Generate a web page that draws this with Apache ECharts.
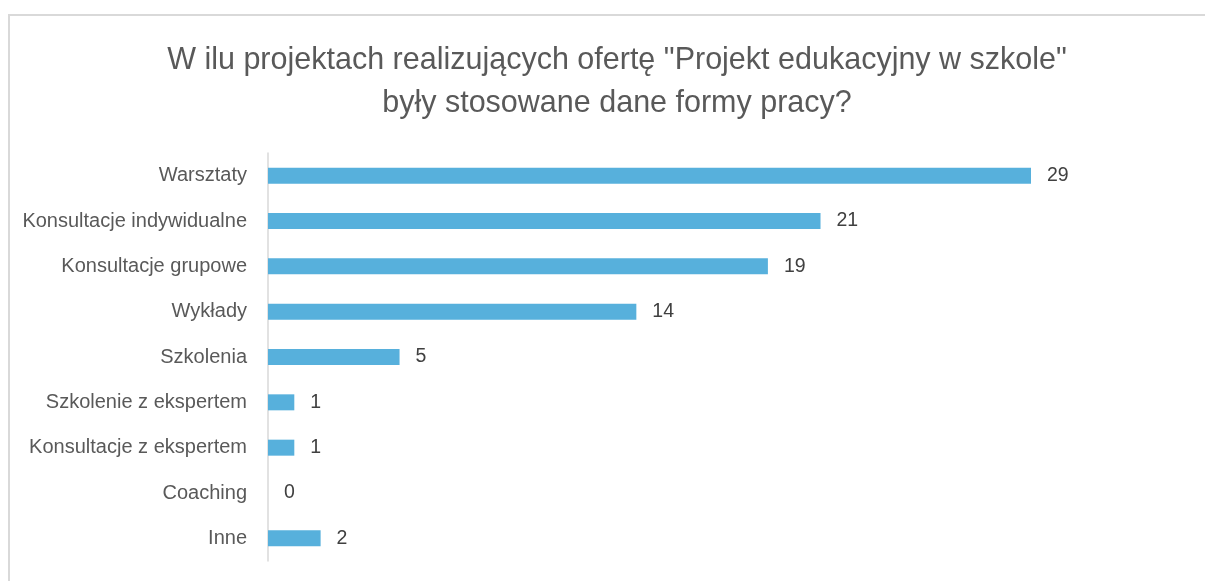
<!DOCTYPE html>
<html>
<head>
<meta charset="utf-8">
<script src="https://cdn.jsdelivr.net/npm/echarts@6/dist/echarts.min.js"></script>
<style>
  html, body { margin: 0; padding: 0; background: #fff; }
  #chart { width: 1205px; height: 581px; }
</style>
</head>
<body>
<div id="chart"></div>
<script>
// forms of work, top to bottom as in the picture
var categories = [
    "Warsztaty",
    "Konsultacje indywidualne",
    "Konsultacje grupowe",
    "Wykłady",
    "Szkolenia",
    "Szkolenie z ekspertem",
    "Konsultacje z ekspertem",
    "Coaching",
    "Inne"
];
var projectCounts = [29, 21, 19, 14, 5, 1, 1, 0, 2];

var titleText = 'W ilu projektach realizujących ofertę "Projekt edukacyjny w szkole"\nbyły stosowane dane formy pracy?';

var font = "'Liberation Sans Narrow', 'Arial Narrow', 'Liberation Sans', Arial, sans-serif";

var chart = echarts.init(document.getElementById("chart"), null, {renderer: "canvas"});

var option = {
    backgroundColor: "#ffffff",
    animation: false,
    graphic: [
        {
            type: "rect",
            shape: {x: 9, y: 15, width: 1400, height: 800},
            style: {fill: "none", stroke: "#d9d9d9", lineWidth: 2},
            silent: true
        }
    ],
    title: {
        text: titleText,
        left: 612,
        textAlign: "center",
        top: 34,
        textStyle: {
            fontFamily: font,
            fontSize: 30.5,
            fontWeight: "normal",
            color: "#595959",
            lineHeight: 43
        }
    },
    grid: {
        left: 268,
        right: 174,
        top: 153,
        bottom: 20,
        outerBoundsMode: "none",
        containLabel: false
    },
    xAxis: {
        type: "value",
        min: 0,
        max: 29,
        show: false
    },
    yAxis: {
        type: "category",
        data: categories,
        inverse: true,
        axisLine: {show: true, lineStyle: {color: "#d9d9d9", width: 1.5}},
        axisTick: {show: false},
        splitLine: {show: false},
        axisLabel: {
            margin: 21,
            fontFamily: font,
            fontSize: 20,
            color: "#595959"
        }
    },
    series: [
        {
            type: "bar",
            data: projectCounts,
            barWidth: 16,
            itemStyle: {color: "#57b0dc"},
            label: {
                show: true,
                position: "right",
                distance: 16,
                fontFamily: font,
                fontSize: 19.5,
                color: "#404040"
            }
        }
    ]
};

chart.setOption(option);
</script>
</body>
</html>
